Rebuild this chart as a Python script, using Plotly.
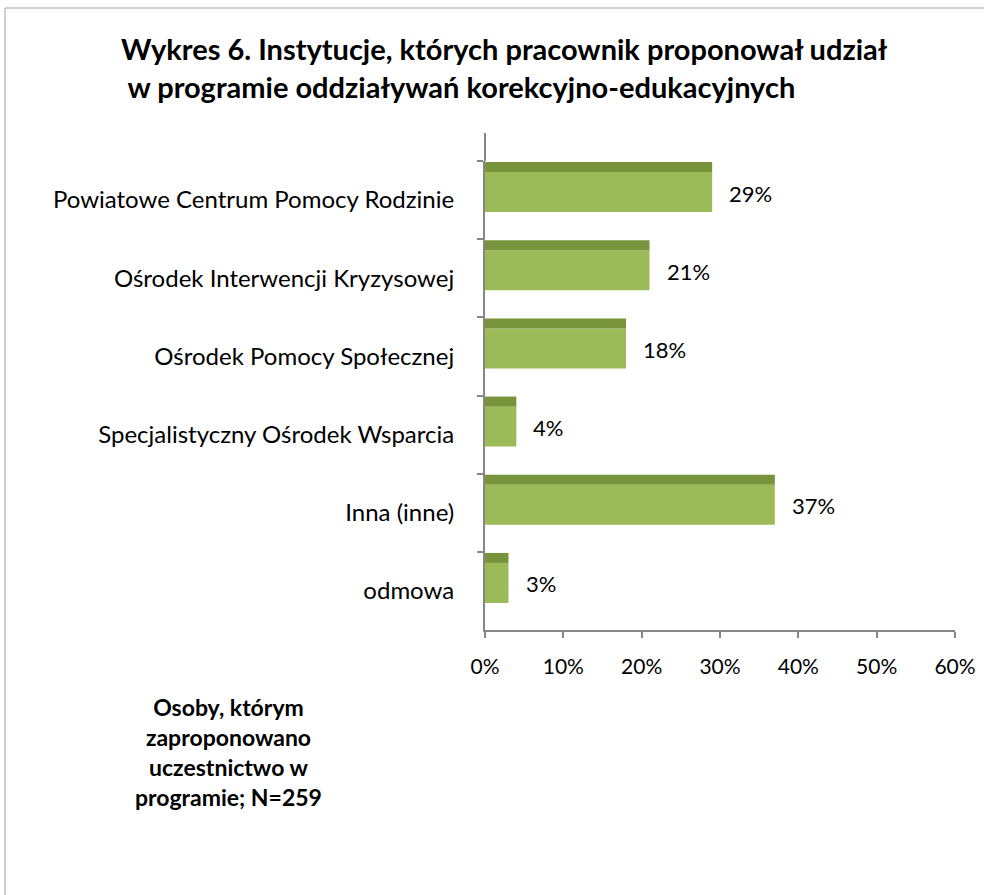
import plotly.graph_objects as go

# dane z wykresu (udział procentowy)
categories = [
    "Powiatowe Centrum Pomocy Rodzinie",
    "Ośrodek Interwencji Kryzysowej",
    "Ośrodek Pomocy Społecznej",
    "Specjalistyczny Ośrodek Wsparcia",
    "Inna (inne)",
    "odmowa",
]
values = [29, 21, 18, 4, 37, 3]
tick_vals = [0, 10, 20, 30, 40, 50, 60]
tick_text = ["0%", "10%", "20%", "30%", "40%", "50%", "60%"]

title_text = ("Wykres 6. Instytucje, których pracownik proponował udział<br>"
              " w programie oddziaływań korekcyjno-edukacyjnych")
note_text = "Osoby, którym<br>zaproponowano<br>uczestnictwo w<br>programie; N=259"

FONT = "Lato"
W, H = 984, 895
L, R, T, B = 485, 955, 161, 630  # obszar wykresu w pikselach


def px_x(px):
    return (px - L) / (R - L)


def px_y(py):
    return (B - py) / (B - T)


fig = go.Figure()

# przednia ściana słupka
fig.add_trace(go.Bar(
    y=categories, x=values, orientation="h",
    offset=-0.358, width=0.512,
    marker=dict(color="#9BBB59", line=dict(width=0)),
    hoverinfo="skip",
))
# górna (ciemniejsza) ściana - efekt 3D
fig.add_trace(go.Bar(
    y=categories, x=values, orientation="h",
    offset=-0.486, width=0.128,
    marker=dict(color="#77933C", line=dict(width=0)),
    hoverinfo="skip",
))

for cat, v in zip(categories, values):
    fig.add_annotation(
        x=v, y=cat, text=f"{v}%", showarrow=False,
        xanchor="left", yanchor="middle", xshift=15, yshift=7,
        font=dict(family=FONT, size=22, color="#000000"),
    )

fig.update_layout(
    template="none",
    width=W, height=H, autosize=False,
    margin=dict(l=L, r=W - R, t=T, b=H - B, pad=0, autoexpand=False),
    paper_bgcolor="white", plot_bgcolor="white",
    showlegend=False, barmode="overlay",
    font=dict(family=FONT, size=22, color="#000000"),
)

fig.update_xaxes(
    range=[0, 60], tickvals=tick_vals, ticktext=tick_text,
    showgrid=False, zeroline=False, automargin=False,
    showline=True, linecolor="#868686", linewidth=2,
    ticks="outside", ticklen=6, tickcolor="#868686", tickwidth=2,
    tickfont=dict(family=FONT, size=21), ticklabelstandoff=11,
)
fig.update_yaxes(
    autorange="reversed", type="category", automargin=False,
    showgrid=False, zeroline=False,
    showline=True, linecolor="#868686", linewidth=2,
    ticks="outside", tickson="boundaries", ticklen=6,
    tickcolor="#868686", tickwidth=2,
    tickfont=dict(family=FONT, size=24), ticklabelstandoff=24,
)

shapes = [
    # przedłużenie osi pionowej ku górze
    dict(type="line", xref="paper", yref="paper",
         x0=0, x1=0, y0=1, y1=px_y(133),
         line=dict(color="#868686", width=2)),
    # ramka wykresu
    dict(type="line", xref="paper", yref="paper",
         x0=px_x(5), x1=px_x(1000), y0=px_y(8), y1=px_y(8),
         line=dict(color="#BFBFBF", width=1.5)),
    dict(type="line", xref="paper", yref="paper",
         x0=px_x(5), x1=px_x(5), y0=px_y(8), y1=px_y(910),
         line=dict(color="#BFBFBF", width=1.5)),
]
fig.update_layout(shapes=shapes)

fig.add_annotation(
    text=title_text, xref="paper", yref="paper",
    x=px_x(119), y=px_y(29), xanchor="left", yanchor="top",
    align="left", showarrow=False,
    font=dict(family=FONT, size=29, color="#000000", weight="bold"),
)
fig.add_annotation(
    text=note_text, xref="paper", yref="paper",
    x=px_x(228), y=px_y(691), xanchor="center", yanchor="top",
    align="center", showarrow=False,
    font=dict(family=FONT, size=23, color="#000000", weight="bold"),
)

# bez marginesu body, żeby wykres zajmował całe okno
fig.write_html("out.html", config={"displayModeBar": False},
               post_script="document.body.style.margin='0';"
                           "document.body.style.overflow='hidden';")
